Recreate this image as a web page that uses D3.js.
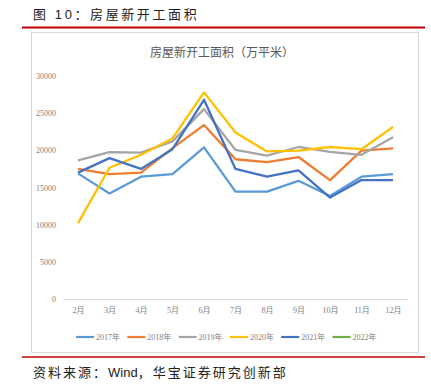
<!DOCTYPE html>
<html>
<head>
<meta charset="utf-8">
<script src="https://cdn.jsdelivr.net/npm/d3@7"></script>
<style>
  body { margin: 0; background: #fff; }
  svg { display: block; }
</style>
</head>
<body>
<div id="chart"></div>
<script>
const months = ['2月', '3月', '4月', '5月', '6月', '7月', '8月', '9月', '10月', '11月', '12月'];
const yTicks = [0, 5000, 10000, 15000, 20000, 25000, 30000];

const s2017 = [16900, 14200, 16450, 16800, 20400, 14450, 14450, 15900, 13850, 16450, 16800];
const s2018 = [17500, 16800, 17000, 20300, 23400, 18800, 18400, 19100, 16000, 19950, 20250];
const s2019 = [18650, 19750, 19700, 21200, 25550, 20050, 19300, 20450, 19800, 19400, 21750];
const s2020 = [10200, 17650, 19400, 21600, 27800, 22400, 19850, 19950, 20450, 20150, 23150];
const s2021 = [17000, 18950, 17500, 20150, 26800, 17500, 16450, 17300, 13650, 16000, 16000];
const s2022 = [];

const seriesNames = ['2017年', '2018年', '2019年', '2020年', '2021年', '2022年'];
const seriesData = [s2017, s2018, s2019, s2020, s2021, s2022];
const colors = ['#5B9BD5', '#ED7D31', '#A5A5A5', '#FFC000', '#4472C4', '#70AD47'];

const width = 431;
const height = 388;
const svg = d3.select('#chart').append('svg').attr('width', width).attr('height', height);

// header
svg.append('text').attr('x', 33).attr('y', 19)
  .attr('font-family', 'Liberation Sans, Noto Sans CJK SC').attr('font-size', 13)
  .attr('letter-spacing', 2.6).attr('fill', '#222')
  .text('图 10：房屋新开工面积');
svg.append('line').attr('x1', 22).attr('x2', 425).attr('y1', 27.5).attr('y2', 27.5)
  .attr('stroke', '#C00000').attr('stroke-width', 2);

// chart frame
svg.append('rect').attr('x', 31.5).attr('y', 32.5).attr('width', 387).attr('height', 320)
  .attr('fill', '#fff').attr('stroke', '#D9D9D9');

svg.append('text').attr('x', 222).attr('y', 57).attr('text-anchor', 'middle')
  .attr('font-family', 'Noto Sans CJK SC').attr('font-size', 12).attr('fill', '#595959')
  .text('房屋新开工面积（万平米）');

const x = d3.scalePoint().domain(months).range([78, 393]);
const y = d3.scaleLinear().domain([0, 30000]).range([299, 76]);

const yAxis = svg.append('g').attr('transform', 'translate(56,0)')
  .call(d3.axisLeft(y).tickValues(yTicks).tickSize(0).tickPadding(0).tickFormat(d3.format('d')));
yAxis.select('.domain').remove();
yAxis.selectAll('text').attr('font-family', 'Liberation Serif, Noto Sans CJK SC')
  .attr('font-size', 8).attr('fill', '#7F7F7F');

const xAxis = svg.append('g').attr('transform', 'translate(0,299)')
  .call(d3.axisBottom(x).tickSize(0).tickPadding(8));
xAxis.select('.domain').attr('d', 'M63.5,0.5H408').attr('stroke', '#D9D9D9');
xAxis.selectAll('text').attr('font-family', 'Liberation Serif, Noto Sans CJK SC')
  .attr('font-size', 8).attr('fill', '#7F7F7F');

const line = d3.line().x((d, i) => x(months[i])).y((d) => y(d));

seriesData.forEach((s, k) => {
  if (!s.length) return;
  svg.append('path').datum(s).attr('d', line)
    .attr('fill', 'none').attr('stroke', colors[k]).attr('stroke-width', 2.3)
    .attr('stroke-linejoin', 'round');
});

// legend
const legend = svg.append('g').attr('transform', 'translate(76,337)');
seriesNames.forEach((name, k) => {
  const g = legend.append('g').attr('transform', `translate(${k * 51.3},0)`);
  g.append('line').attr('x1', 0).attr('x2', 18).attr('stroke', colors[k]).attr('stroke-width', 2.2);
  g.append('text').attr('x', 20).attr('y', 3).attr('font-family', 'Liberation Serif, Noto Sans CJK SC')
    .attr('font-size', 8).attr('fill', '#7F7F7F').text(name);
});

// footer
svg.append('line').attr('x1', 22).attr('x2', 425).attr('y1', 357).attr('y2', 357)
  .attr('stroke', '#C00000').attr('stroke-width', 1.5);
const src = svg.append('text').attr('x', 33).attr('y', 377)
  .attr('font-family', 'Liberation Sans, Noto Sans CJK SC').attr('font-size', 13).attr('fill', '#222');
src.append('tspan').attr('letter-spacing', 2).text('资料来源：');
src.append('tspan').attr('letter-spacing', 0).text('Wind');
src.append('tspan').attr('letter-spacing', 2).text('，华宝证券研究创新部');
</script>
</body>
</html>
